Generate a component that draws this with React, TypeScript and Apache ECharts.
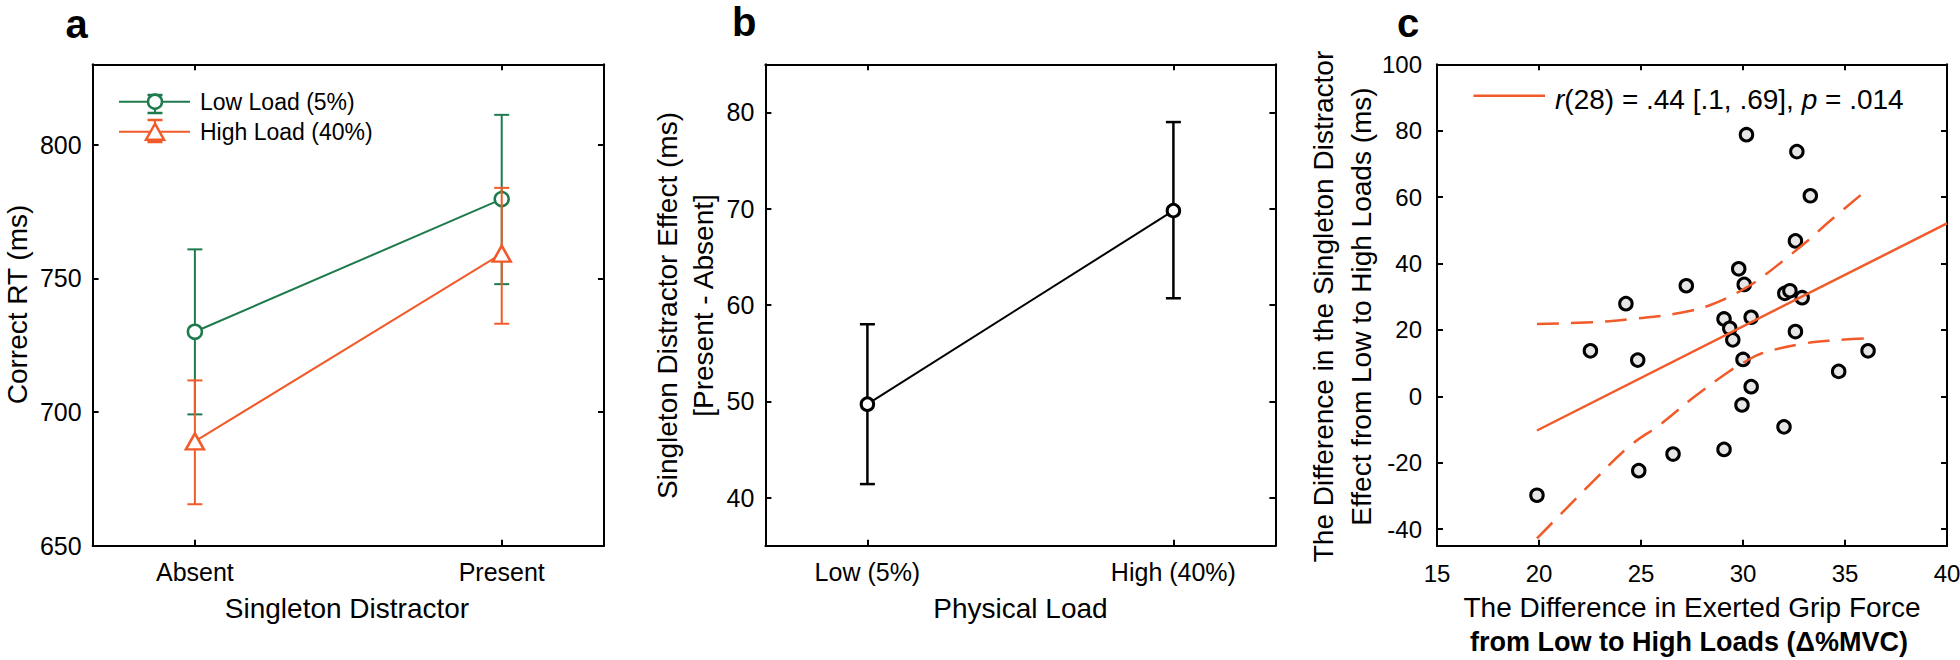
import React, { useEffect, useRef } from "react";
import * as echarts from "echarts";

// ---------------- data ----------------
const distractorCats = ["Absent", "Present"];
const lowLoadMean = [730, 779.6];
const lowLoadLower = [699.1, 747.8];
const lowLoadUpper = [760.8, 811.1];
const highLoadMean = [689, 759.2];
const highLoadLower = [665.5, 733];
const highLoadUpper = [711.8, 783.8];
const rtTicks = [650, 700, 750, 800];

const loadCats = ["Low (5%)", "High (40%)"];
const effectMean = [49.7, 69.8];
const effectLower = [41.4, 60.7];
const effectUpper = [58.0, 79.0];
const effectTicks = [40, 50, 60, 70, 80];

const gripDiff = [30.17, 32.64, 33.3, 32.57, 29.79, 30.06, 27.22, 24.26, 32.05, 32.3, 32.9, 29.07, 30.4, 29.35, 29.5, 32.57, 22.52, 24.84, 30.0, 36.13, 34.69, 30.4, 29.95, 32.01, 29.07, 26.57, 24.89, 19.9];
const effectDiff = [78.8, 73.7, 60.4, 46.8, 38.4, 33.7, 33.3, 27.9, 31.0, 31.8, 29.7, 23.3, 23.8, 20.5, 17.0, 19.5, 13.7, 10.9, 11.1, 13.7, 7.5, 2.9, -2.6, -9.2, -16.0, -17.4, -22.4, -29.8];
const fitX = [19.9, 40];
const fitY = [-10.3, 52.1];
const ciUpperX = [19.9, 22.9, 24.7, 26.6, 28.4, 30.1, 31.0, 32.1, 33.2, 34.2, 36.0];
const ciUpperY = [21.8, 22.4, 23.4, 24.8, 27.5, 32.5, 36.2, 41.5, 47.0, 52.5, 61.8];
const ciLowerX = [19.9, 21.1, 22.7, 24.4, 26.0, 27.6, 29.3, 30.1, 30.9, 33.0, 34.6, 36.0];
const ciLowerY = [-42.8, -35.3, -25.3, -15.2, -8.2, -0.2, 7.4, 10.4, 12.9, 15.9, 16.9, 17.4];
const gripTicks = [15, 20, 25, 30, 35, 40];
const diffTicks = [-40, -20, 0, 20, 40, 60, 80, 100];

// ---------------- styles ----------------
const FONT = '"Liberation Sans", Arial, Helvetica, sans-serif';
const GREEN = "#1f7b4d";
const ORANGE = "#f15a29";
const BLACK = "#000";

const zip = (xs: number[], ys: number[]) => xs.map((x, i) => [x, ys[i]]);
const catPos = (cats: string[]) => cats.map((_, i) => i + 1);

function errorBars(xi: number, yi: number, xs: number[], lo: number[], hi: number[], color: string, lw: number, capW: number, z: number) {
  return {
    type: "custom",
    xAxisIndex: xi,
    yAxisIndex: yi,
    z,
    silent: true,
    data: xs.map((x, i) => [x, lo[i], hi[i]]),
    encode: { x: 0, y: [1, 2] },
    renderItem: (_p: any, api: any) => {
      const x = api.value(0);
      const a = api.coord([x, api.value(1)]);
      const b = api.coord([x, api.value(2)]);
      const h = capW / 2;
      const style = { stroke: color, lineWidth: lw, fill: "none" };
      return {
        type: "group",
        children: [
          { type: "line", shape: { x1: a[0], y1: a[1], x2: b[0], y2: b[1] }, style },
          { type: "line", shape: { x1: a[0] - h, y1: a[1], x2: a[0] + h, y2: a[1] }, style },
          { type: "line", shape: { x1: b[0] - h, y1: b[1], x2: b[0] + h, y2: b[1] }, style },
        ],
      };
    },
  };
}

const axisLine = { show: true, onZero: false, lineStyle: { color: BLACK, width: 2 } };

function xAxesFor(gridIndex: number, min: number, max: number, ticks: number[], fmt: (v: number) => string, fontSize: number, margin: number) {
  const tick = { show: true, inside: true, length: 6, customValues: ticks, lineStyle: { color: BLACK, width: 2 } };
  return [
    {
      type: "value", gridIndex, position: "bottom", min, max,
      axisLine, axisTick: tick, splitLine: { show: false },
      axisLabel: { show: true, customValues: ticks, formatter: fmt, fontSize, fontFamily: FONT, color: BLACK, margin },
    },
    {
      type: "value", gridIndex, position: "top", min, max,
      axisLine, axisTick: tick, splitLine: { show: false }, axisLabel: { show: false },
    },
  ];
}

function yAxesFor(gridIndex: number, min: number, max: number, ticks: number[], fontSize: number, margin: number) {
  const tick = { show: true, inside: true, length: 6, customValues: ticks, lineStyle: { color: BLACK, width: 2 } };
  return [
    {
      type: "value", gridIndex, position: "left", min, max,
      axisLine, axisTick: tick, splitLine: { show: false },
      axisLabel: { show: true, customValues: ticks, fontSize, fontFamily: FONT, color: BLACK, margin },
    },
    {
      type: "value", gridIndex, position: "right", min, max,
      axisLine, axisTick: tick, splitLine: { show: false }, axisLabel: { show: false },
    },
  ];
}

function text(x: number, y: number, t: string, fontSize: number, opts: any = {}) {
  return {
    type: "text",
    x, y,
    rotation: opts.rotation || 0,
    silent: true,
    style: {
      text: t,
      fill: BLACK,
      fontSize,
      fontFamily: FONT,
      fontWeight: opts.bold ? "bold" : "normal",
      align: opts.align || "center",
      verticalAlign: opts.verticalAlign || "middle",
      lineHeight: opts.lineHeight || fontSize,
      rich: opts.rich,
    },
  };
}

export default function App() {
  const ref = useRef<HTMLDivElement>(null);

  useEffect(() => {
    document.body.style.margin = "0";
    const chart = echarts.init(ref.current!, null, { renderer: "svg" });
    const posA = catPos(distractorCats);
    const posB = catPos(loadCats);

    const option: any = {
      animation: false,
      backgroundColor: "#fff",
      grid: [
        { left: 92.6, top: 64.3, width: 511.4, height: 481.4, outerBoundsMode: "none", containLabel: false },
        { left: 765.4, top: 64.3, width: 510, height: 481.4, outerBoundsMode: "none", containLabel: false },
        { left: 1437, top: 64.3, width: 510, height: 481.4, outerBoundsMode: "none", containLabel: false },
      ],
      xAxis: [
        ...xAxesFor(0, 2 / 3, 7 / 3, posA, (v: number) => distractorCats[Math.round(v) - 1] || "", 25, 14),
        ...xAxesFor(1, 2 / 3, 7 / 3, posB, (v: number) => loadCats[Math.round(v) - 1] || "", 25, 14),
        ...xAxesFor(2, 15, 40, gripTicks, (v: number) => String(v), 24, 16),
      ],
      yAxis: [
        ...yAxesFor(0, 650, 830, rtTicks, 25, 11),
        ...yAxesFor(1, 35, 85, effectTicks, 25, 11),
        ...yAxesFor(2, -45, 100, diffTicks, 24, 15),
      ],
      series: [
        // panel a
        errorBars(0, 0, posA, lowLoadLower, lowLoadUpper, GREEN, 2, 15, 2),
        {
          type: "line", xAxisIndex: 0, yAxisIndex: 0, z: 3, silent: true,
          data: zip(posA, lowLoadMean), symbol: "circle", symbolSize: 14, showSymbol: true,
          lineStyle: { color: GREEN, width: 2 },
          itemStyle: { color: "#fff", borderColor: GREEN, borderWidth: 2.5 },
        },
        errorBars(0, 0, posA, highLoadLower, highLoadUpper, ORANGE, 2, 15, 4),
        {
          type: "line", xAxisIndex: 0, yAxisIndex: 0, z: 5, silent: true,
          data: zip(posA, highLoadMean), symbol: "triangle", symbolSize: [18, 16], showSymbol: true,
          lineStyle: { color: ORANGE, width: 2 },
          itemStyle: { color: "#fff", borderColor: ORANGE, borderWidth: 2.5 },
        },
        // panel b
        errorBars(2, 2, posB, effectLower, effectUpper, BLACK, 2.5, 15, 2),
        {
          type: "line", xAxisIndex: 2, yAxisIndex: 2, z: 3, silent: true,
          data: zip(posB, effectMean), symbol: "circle", symbolSize: 12.5, showSymbol: true,
          lineStyle: { color: BLACK, width: 2 },
          itemStyle: { color: "#fff", borderColor: BLACK, borderWidth: 3 },
        },
        // panel c
        {
          type: "scatter", xAxisIndex: 4, yAxisIndex: 4, z: 2, silent: true,
          data: zip(gripDiff, effectDiff), symbol: "circle", symbolSize: 12.5,
          itemStyle: { color: "#e6e6e6", borderColor: BLACK, borderWidth: 3, opacity: 1 },
        },
        {
          type: "line", xAxisIndex: 4, yAxisIndex: 4, z: 4, silent: true, symbol: "none",
          data: zip(fitX, fitY), lineStyle: { color: ORANGE, width: 2.5 },
        },
        {
          type: "line", xAxisIndex: 4, yAxisIndex: 4, z: 4, silent: true, symbol: "none", smooth: 0.4,
          data: zip(ciUpperX, ciUpperY), lineStyle: { color: ORANGE, width: 2.5, type: [22, 12] },
        },
        {
          type: "line", xAxisIndex: 4, yAxisIndex: 4, z: 4, silent: true, symbol: "none", smooth: 0.4,
          data: zip(ciLowerX, ciLowerY), lineStyle: { color: ORANGE, width: 2.5, type: [22, 12] },
        },
      ],
      graphic: [
        // panel letters
        text(65.5, 4, "a", 40, { bold: true, align: "left", verticalAlign: "top" }),
        text(732, 2, "b", 40, { bold: true, align: "left", verticalAlign: "top" }),
        text(1397, 3, "c", 40, { bold: true, align: "left", verticalAlign: "top" }),
        // axis titles
        text(17, 304.5, "Correct RT (ms)", 28, { rotation: Math.PI / 2 }),
        text(347, 608.3, "Singleton Distractor", 28),
        text(685, 305.5, "Singleton Distractor Effect (ms)\n[Present - Absent]", 28, { rotation: Math.PI / 2, lineHeight: 36 }),
        text(1020.5, 608.3, "Physical Load", 28),
        text(1342, 306.5, "The Difference in the Singleton Distractor\nEffect from Low to High Loads (ms)", 28, { rotation: Math.PI / 2, lineHeight: 38 }),
        text(1692, 607, "The Difference in Exerted Grip Force", 28),
        text(1689, 641.5, "from Low to High Loads (\u0394%MVC)", 27, { bold: true }),
        // legend panel a
        { type: "line", silent: true, shape: { x1: 119, y1: 101.7, x2: 190, y2: 101.7 }, style: { stroke: GREEN, lineWidth: 2 } },
        { type: "line", silent: true, shape: { x1: 155, y1: 95, x2: 155, y2: 113 }, style: { stroke: GREEN, lineWidth: 2 } },
        { type: "line", silent: true, shape: { x1: 147.5, y1: 95, x2: 162.5, y2: 95 }, style: { stroke: GREEN, lineWidth: 2.5 } },
        { type: "line", silent: true, shape: { x1: 147.5, y1: 113, x2: 162.5, y2: 113 }, style: { stroke: GREEN, lineWidth: 2.5 } },
        { type: "circle", silent: true, shape: { cx: 155, cy: 101.7, r: 7 }, style: { fill: "#fff", stroke: GREEN, lineWidth: 2.5 } },
        text(200, 101.7, "Low Load (5%)", 23, { align: "left" }),
        { type: "line", silent: true, shape: { x1: 119, y1: 131.7, x2: 190, y2: 131.7 }, style: { stroke: ORANGE, lineWidth: 2 } },
        { type: "line", silent: true, shape: { x1: 155, y1: 120, x2: 155, y2: 142 }, style: { stroke: ORANGE, lineWidth: 2 } },
        { type: "line", silent: true, shape: { x1: 147.5, y1: 120, x2: 162.5, y2: 120 }, style: { stroke: ORANGE, lineWidth: 2.5 } },
        { type: "line", silent: true, shape: { x1: 147.5, y1: 142, x2: 162.5, y2: 142 }, style: { stroke: ORANGE, lineWidth: 2.5 } },
        { type: "polygon", silent: true, shape: { points: [[155, 123.7], [164, 139.7], [146, 139.7]] }, style: { fill: "#fff", stroke: ORANGE, lineWidth: 2.5 } },
        text(200, 131.7, "High Load (40%)", 23, { align: "left" }),
        // legend panel c
        { type: "line", silent: true, shape: { x1: 1473.5, y1: 95.7, x2: 1545, y2: 95.7 }, style: { stroke: ORANGE, lineWidth: 2.5 } },
        text(1555, 99, "{i|r}(28) = .44 [.1, .69], {i|p} = .014", 28, {
          align: "left",
          rich: { i: { fontStyle: "italic", fontSize: 28, fontFamily: FONT, fill: BLACK } },
        }),
      ],
    };

    chart.setOption(option);
    return () => chart.dispose();
  }, []);

  return <div ref={ref} style={{ position: "absolute", left: 0, top: 0, width: 1960, height: 660 }} />;
}
